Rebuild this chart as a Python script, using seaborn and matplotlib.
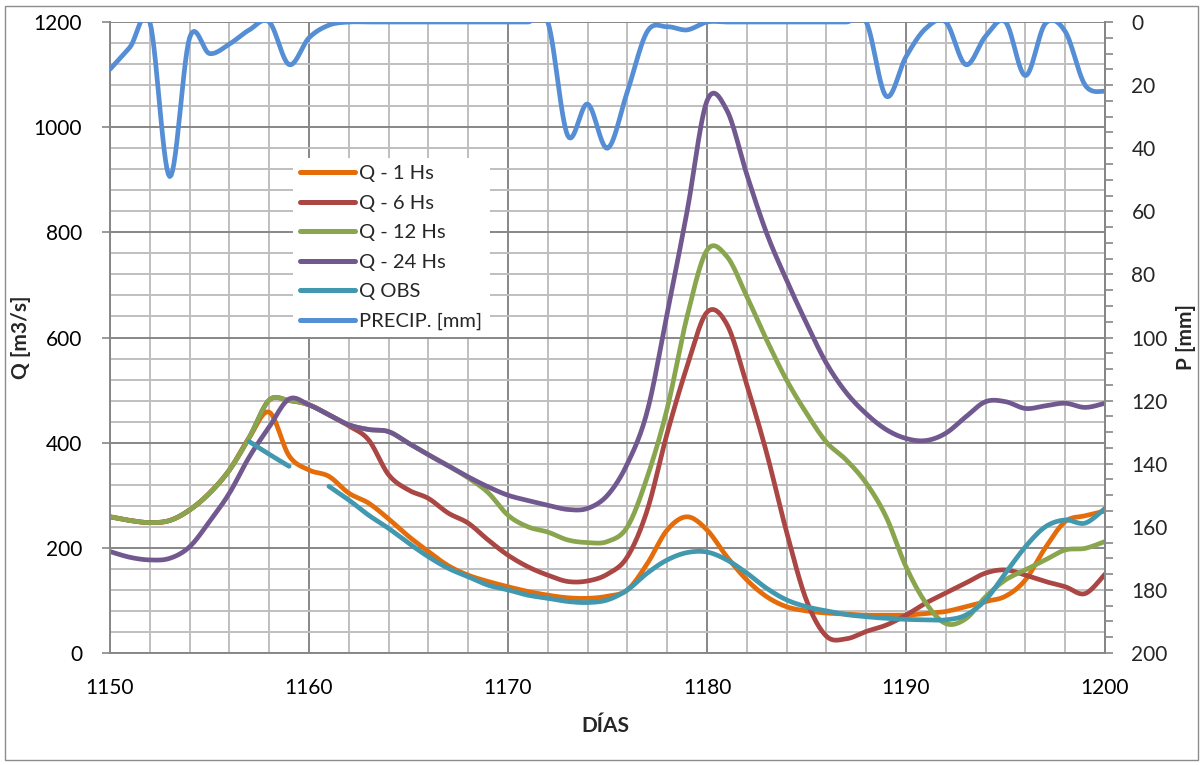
import numpy as np
import pandas as pd
import matplotlib
matplotlib.use("Agg")
import matplotlib.pyplot as plt
import seaborn as sns
from matplotlib.ticker import MultipleLocator
from matplotlib.lines import Line2D
from matplotlib.patches import Rectangle

# ---------------- data ----------------
days = list(range(1150, 1201))

q_1hs = [259, 252, 248, 252, 272, 304, 348, 410, 458, 375,
         348, 336, 304, 285, 255, 222, 193, 166, 148, 136,
         126, 117, 110, 105, 104, 108, 120, 170, 234, 259,
         234, 183, 139, 107, 88, 80, 76, 74, 72, 72,
         72, 75, 79, 88, 98, 108, 139, 200, 250, 261,
         270]

q_6hs = [259, 252, 248, 252, 272, 304, 348, 410, 481, 480,
         472, 453, 432, 405, 339, 310, 294, 266, 247, 215,
         186, 164, 148, 136, 137, 150, 183, 272, 418, 545,
         648, 625, 510, 380, 230, 100, 32, 27, 41, 53,
         72, 95, 114, 133, 152, 158, 148, 136, 126, 113,
         150]

q_12hs = [259, 252, 248, 252, 272, 304, 348, 410, 481, 480,
          472, 453, 434, 425, 421, 399, 377, 356, 333, 305,
          262, 240, 230, 215, 210, 212, 240, 335, 465, 640,
          766, 754, 678, 595, 519, 456, 401, 367, 323, 259,
          164, 95, 56, 65, 107, 139, 158, 177, 196, 199,
          212]

q_24hs = [193, 182, 177, 180, 202, 250, 304, 373, 430, 483,
          472, 453, 434, 425, 421, 399, 377, 356, 335, 316,
          300, 290, 281, 273, 275, 300, 360, 460, 646, 840,
          1050, 1032, 910, 798, 709, 627, 551, 495, 455, 425,
          408, 404, 418, 449, 478, 478, 465, 470, 475, 467,
          475]

nan = np.nan
q_obs = [nan, nan, nan, nan, nan, nan, nan, 402, 378, 355,
         nan, 317, 291, 262, 237, 209, 183, 161, 145, 129,
         120, 110, 104, 98, 96, 101, 120, 152, 177, 191,
         192, 177, 152, 123, 101, 88, 80, 73, 69, 66,
         64, 63, 63, 72, 101, 152, 202, 240, 253, 247,
         275]

precip = [15, 8, 0, 49, 5, 10, 7, 2.5, 0, 13.5,
          5, 1, 0, 0, 0, 0, 0, 0, 0, 0,
          0, 0, 0, 36, 26, 40, 22, 3, 1.5, 2.5,
          0, 0, 0, 0, 0, 0, 0, 0, 0, 23.5,
          11, 2, 0, 13.5, 4.5, 0, 17, 0.5, 3, 20,
          22]

q_names = ["Q - 1 Hs", "Q - 6 Hs", "Q - 12 Hs", "Q - 24 Hs", "Q OBS"]
p_name = "PRECIP. [mm]"
colors = {"Q - 1 Hs": "#E46C0A", "Q - 6 Hs": "#AA4643", "Q - 12 Hs": "#89A54E",
          "Q - 24 Hs": "#71588F", "Q OBS": "#4198AF", "PRECIP. [mm]": "#558ED5"}


# Excel-style smoothed line rendering (Bezier through the data points)
def smooth(x, y, n=14):
    x = np.asarray(x, float)
    y = np.asarray(y, float)
    N = len(x)
    if N < 2:
        return x, y
    xs, ys = [], []
    for i in range(N - 1):
        i0, i3 = max(i - 1, 0), min(i + 2, N - 1)
        P0 = np.array([x[i0], y[i0]]); P1 = np.array([x[i], y[i]])
        P2 = np.array([x[i + 1], y[i + 1]]); P3 = np.array([x[i3], y[i3]])
        B1 = P1 + (P2 - P0) / 6.0
        B2 = P2 - (P3 - P1) / 6.0
        t = np.linspace(0, 1, n, endpoint=(i == N - 2))[:, None]
        pts = ((1 - t) ** 3) * P1 + 3 * ((1 - t) ** 2) * t * B1 + 3 * (1 - t) * t ** 2 * B2 + t ** 3 * P2
        xs.append(pts[:, 0]); ys.append(pts[:, 1])
    return np.concatenate(xs), np.concatenate(ys)


def segments(x, y):
    x = np.asarray(x, float); y = np.asarray(y, float)
    ok = ~np.isnan(y)
    segs, cur = [], []
    for i in range(len(x)):
        if ok[i]:
            cur.append(i)
        elif cur:
            segs.append(cur); cur = []
    if cur:
        segs.append(cur)
    return [(x[s], y[s]) for s in segs]


rows = []
for name, vals in zip(q_names, [q_1hs, q_6hs, q_12hs, q_24hs, q_obs]):
    for k, (sx, sy) in enumerate(segments(days, vals)):
        xx, yy = smooth(sx, sy)
        rows.append(pd.DataFrame({"day": xx, "Q": yy, "series": name, "seg": f"{name}_{k}"}))
df_q = pd.concat(rows, ignore_index=True)

px, py = smooth(days, precip)
df_p = pd.DataFrame({"day": px, "P": py, "series": p_name})

# ---------------- figure ----------------
sns.set_style("white")
plt.rcParams["font.family"] = ["Lato", "DejaVu Sans"]

fig = plt.figure(figsize=(12.01, 7.65), dpi=100)
ax = fig.add_axes([110 / 1201, 1 - 653 / 765, 995 / 1201, 631 / 765])

grid_major = "#878787"
grid_minor = "#BFBFBF"

ax.set_xlim(1150, 1200)
ax.set_ylim(0, 1200)
ax.xaxis.set_major_locator(MultipleLocator(10))
ax.xaxis.set_minor_locator(MultipleLocator(2))
ax.yaxis.set_major_locator(MultipleLocator(200))
ax.yaxis.set_minor_locator(MultipleLocator(40))
ax.set_axisbelow(True)
ax.grid(which="minor", color=grid_minor, lw=1.4)
ax.grid(which="major", color=grid_major, lw=1.4)

sns.lineplot(data=df_q, x="day", y="Q", hue="series", hue_order=q_names,
             units="seg", estimator=None, sort=False, palette=colors,
             lw=3.4, legend=False, ax=ax, solid_capstyle="round")

ax.tick_params(which="minor", length=0)
ax.tick_params(which="major", length=6, width=1.2, color=grid_major,
               direction="out", labelsize=15, colors="black")
ax.tick_params(axis="x", which="major", pad=12)
ax.tick_params(axis="y", which="major", pad=14)
for s in ["left", "bottom", "right"]:
    ax.spines[s].set_color(grid_major)
    ax.spines[s].set_linewidth(1.4)
ax.spines["top"].set_visible(False)

ax.set_xlabel("DÍAS", fontsize=15, fontweight="bold")
ax.set_ylabel("Q [m3/s]", fontsize=15, fontweight="bold")
ax.xaxis.set_label_coords((605 - 110) / 995, (653 - 716) / 631)
ax.yaxis.set_label_coords((31 - 110) / 995, 0.5)

ax2 = ax.twinx()
ax2.set_ylim(200, 0)
ax2.yaxis.set_major_locator(MultipleLocator(20))
ax2.yaxis.set_minor_locator(MultipleLocator(5))
ax2.grid(False)
sns.lineplot(data=df_p, x="day", y="P", color=colors[p_name], lw=3.4,
             estimator=None, sort=False, legend=False, ax=ax2,
             solid_capstyle="round")
ax2.set_xlim(1150, 1200)
ax2.tick_params(which="both", length=6, width=1.2, color=grid_major,
                direction="out", labelsize=15, pad=13)
for s in ["left", "bottom", "top"]:
    ax2.spines[s].set_visible(False)
ax2.spines["right"].set_color(grid_major)
ax2.spines["right"].set_linewidth(1.4)
ax2.set_ylabel("P [mm]", fontsize=15, fontweight="bold")
ax2.yaxis.set_label_coords((1176 - 110) / 995, 0.5)
ax2.set_xlabel("")

handles = [Line2D([0], [0], color=colors[n], lw=3.6, solid_capstyle="round")
           for n in q_names + [p_name]]
leg = ax2.legend(handles, q_names + [p_name], loc="upper left",
                 bbox_to_anchor=((293 - 110) / 995, (653 - 158) / 631),
                 frameon=True, fontsize=14.5, handlelength=2.75,
                 handletextpad=0.2, labelspacing=0.62, borderpad=0.35,
                 borderaxespad=0)
leg.get_frame().set_facecolor("white")
leg.get_frame().set_edgecolor("none")
leg.get_frame().set_alpha(1)

fig.patches.append(Rectangle((5 / 1201, 5 / 765), 1193 / 1201, 754 / 765,
                             transform=fig.transFigure, fill=False,
                             edgecolor="#8C8C8C", lw=1.0))

fig.savefig("out.png", dpi=100)
